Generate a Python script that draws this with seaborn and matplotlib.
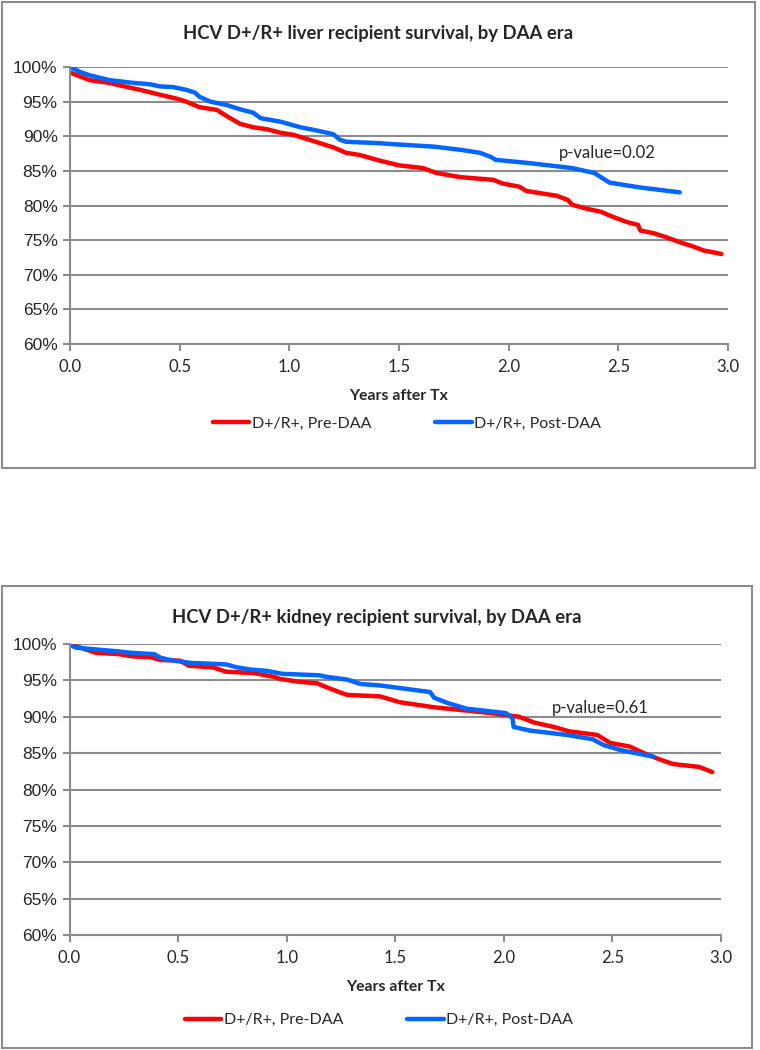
import matplotlib
matplotlib.use('Agg')
import matplotlib.pyplot as plt
from matplotlib.patches import Rectangle
from matplotlib.ticker import PercentFormatter, MultipleLocator
import seaborn as sns
import pandas as pd

# 数据：生存曲线（年，生存率 %）
liver_pre_years = [0, 0.09, 0.18, 0.24, 0.32, 0.41, 0.49, 0.53, 0.59, 0.67, 0.715, 0.775, 0.835, 0.90,
                   0.96, 1.02, 1.08, 1.14, 1.20, 1.26, 1.32, 1.41, 1.50, 1.61, 1.67, 1.78, 1.93, 1.97,
                   2.05, 2.08, 2.14, 2.22, 2.27, 2.29, 2.36, 2.42, 2.48, 2.54, 2.59, 2.60, 2.66, 2.72,
                   2.78, 2.83, 2.89, 2.97]
liver_pre_surv = [99.2, 98.1, 97.7, 97.25, 96.7, 96.0, 95.4, 95.0, 94.2, 93.8, 92.9, 91.8, 91.3, 91.0,
                  90.5, 90.2, 89.6, 89.0, 88.4, 87.6, 87.3, 86.5, 85.8, 85.4, 84.7, 84.1, 83.7, 83.2,
                  82.7, 82.1, 81.8, 81.4, 80.8, 80.1, 79.5, 79.1, 78.3, 77.6, 77.2, 76.4, 76.0, 75.4,
                  74.7, 74.2, 73.5, 73.0]

liver_post_years = [0, 0.045, 0.09, 0.18, 0.29, 0.365, 0.41, 0.47, 0.53, 0.57, 0.59, 0.64, 0.715, 0.775,
                    0.835, 0.87, 0.96, 1.05, 1.13, 1.20, 1.23, 1.26, 1.41, 1.45, 1.66, 1.79, 1.87, 1.92,
                    1.94, 2.10, 2.29, 2.39, 2.43, 2.46, 2.60, 2.78]
liver_post_surv = [100, 99.3, 98.8, 98.1, 97.7, 97.5, 97.2, 97.1, 96.7, 96.3, 95.7, 95.0, 94.5, 93.9,
                   93.4, 92.6, 92.1, 91.3, 90.8, 90.3, 89.5, 89.2, 89.0, 88.9, 88.5, 88.0, 87.6, 87.0,
                   86.6, 86.1, 85.4, 84.7, 83.9, 83.3, 82.6, 81.9]

kidney_pre_years = [0, 0.05, 0.12, 0.23, 0.29, 0.37, 0.42, 0.51, 0.55, 0.66, 0.72, 0.85, 0.94, 0.97,
                    1.06, 1.14, 1.18, 1.25, 1.28, 1.43, 1.52, 1.68, 1.78, 1.94, 2.07, 2.14, 2.23, 2.30,
                    2.43, 2.49, 2.58, 2.66, 2.73, 2.78, 2.90, 2.96]
kidney_pre_surv = [99.9, 99.5, 98.8, 98.6, 98.3, 98.2, 97.8, 97.7, 97.0, 96.8, 96.2, 96.0, 95.5, 95.2,
                   94.8, 94.6, 94.1, 93.3, 93.0, 92.8, 92.0, 91.3, 91.0, 90.5, 90.0, 89.2, 88.6, 88.0,
                   87.5, 86.4, 85.9, 84.8, 84.0, 83.5, 83.1, 82.4]

kidney_post_years = [0, 0.03, 0.14, 0.22, 0.28, 0.39, 0.42, 0.48, 0.56, 0.72, 0.77, 0.83, 0.91, 0.98,
                     1.15, 1.18, 1.28, 1.34, 1.43, 1.66, 1.68, 1.74, 1.83, 2.01, 2.04, 2.045, 2.12, 2.29,
                     2.41, 2.46, 2.54, 2.69]
kidney_post_surv = [99.9, 99.5, 99.2, 99.0, 98.8, 98.6, 98.1, 97.7, 97.4, 97.2, 96.8, 96.5, 96.3, 95.9,
                    95.7, 95.5, 95.1, 94.5, 94.3, 93.4, 92.6, 91.9, 91.1, 90.5, 89.8, 88.6, 88.1, 87.5,
                    86.9, 86.1, 85.4, 84.5]

series_labels = ['D+/R+, Pre-DAA', 'D+/R+, Post-DAA']
series_colors = ['#FF0000', '#0066FF']
titles = ['HCV D+/R+ liver recipient survival, by DAA era',
          'HCV D+/R+ kidney recipient survival, by DAA era']
p_values = ['p-value=0.02', 'p-value=0.61']
x_label = 'Years after Tx'

sns.set_style('white')
plt.rcParams['font.family'] = ['Lato', 'DejaVu Sans']

fig = plt.figure(figsize=(7.6, 10.5), dpi=100)
W, H = 760, 1050
gray = '#8C8C8C'


def fx(px):
    return px / W


def fy(py):
    return 1 - py / H


def make_df(pre_x, pre_y, post_x, post_y):
    d1 = pd.DataFrame({'years': pre_x, 'surv': pre_y, 'era': series_labels[0]})
    d2 = pd.DataFrame({'years': post_x, 'surv': post_y, 'era': series_labels[1]})
    return pd.concat([d1, d2], ignore_index=True)


def draw_panel(frame, axbox, df, title, pval, ptxt, xlab_pad, legend_xy):
    # 外框
    x0, y0, x1, y1 = frame
    fig.patches.append(Rectangle((fx(x0), fy(y1)), fx(x1 - x0), (y1 - y0) / H,
                                 transform=fig.transFigure, fill=False,
                                 edgecolor=gray, linewidth=1.5))
    l, t, r, b = axbox
    ax = fig.add_axes([fx(l), fy(b), fx(r - l), (b - t) / H])
    sns.lineplot(data=df, x='years', y='surv', hue='era', palette=series_colors,
                 sort=False, estimator=None, linewidth=3.2, ax=ax)
    ax.set_xlim(0, 3)
    ax.set_ylim(60, 100)
    ax.xaxis.set_major_locator(MultipleLocator(0.5))
    ax.yaxis.set_major_locator(MultipleLocator(5))
    ax.xaxis.set_major_formatter(plt.FormatStrFormatter('%.1f'))
    ax.yaxis.set_major_formatter(PercentFormatter(xmax=100, decimals=0))
    ax.grid(axis='y', color=gray, linewidth=1.5)
    ax.set_axisbelow(True)
    for s in ['top', 'right']:
        ax.spines[s].set_visible(False)
    for s in ['left', 'bottom']:
        ax.spines[s].set_color(gray)
        ax.spines[s].set_linewidth(1.5)
    ax.tick_params(axis='both', which='major', direction='out', length=5, width=1.5,
                   color=gray, bottom=True, left=True)
    ax.tick_params(axis='y', labelsize=12.5, pad=4)
    ax.tick_params(axis='x', labelsize=12, pad=6)
    for lab in ax.get_yticklabels():
        lab.set_family(['Liberation Sans', 'DejaVu Sans'])
    ax.set_xlabel(x_label, fontsize=11.3, fontweight='bold', labelpad=xlab_pad)
    ax.set_ylabel('')
    ax.text(pval[0], pval[1], ptxt, fontsize=12, ha='left', va='center')
    fig.text(fx((x0 + x1) / 2), fy(y0 + 31), title, fontsize=13.3, fontweight='bold',
             ha='center', va='center')
    ax.legend(loc='center', bbox_to_anchor=(fx(legend_xy[0]), fy(legend_xy[1])),
              bbox_transform=fig.transFigure, ncol=2, frameon=False, fontsize=11.5,
              handlelength=2.3, handletextpad=0.15, columnspacing=4.0)
    return ax


draw_panel((2, 2, 755, 468), (70, 67, 728, 344),
           make_df(liver_pre_years, liver_pre_surv, liver_post_years, liver_post_surv),
           titles[0], (2.23, 87.6), p_values[0], 10, (407, 424))

draw_panel((2, 586, 752, 1048), (69.5, 644, 721, 935),
           make_df(kidney_pre_years, kidney_pre_surv, kidney_post_years, kidney_post_surv),
           titles[1], (2.22, 91.2), p_values[1], 10, (379, 1020))

plt.savefig('out.png', dpi=100)
